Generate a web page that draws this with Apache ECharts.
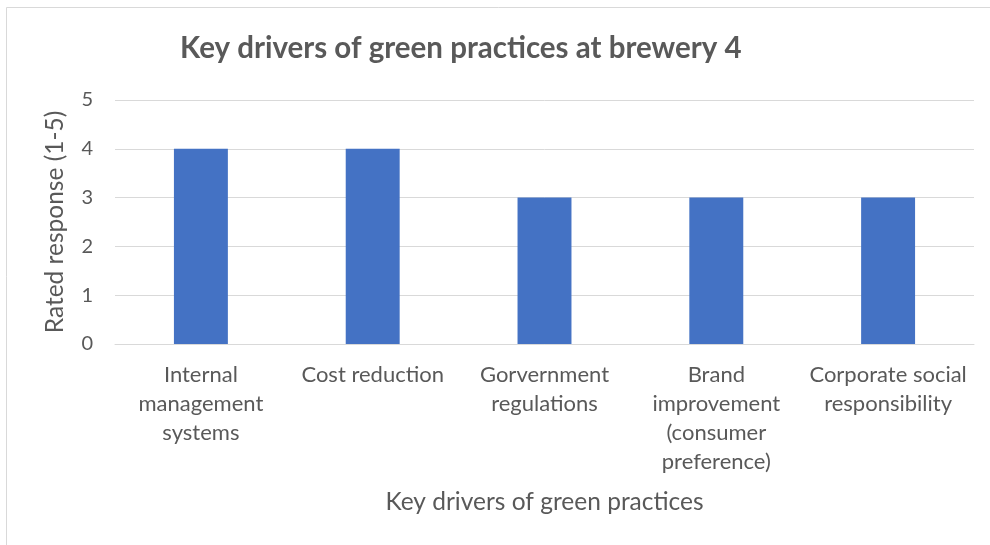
<!DOCTYPE html>
<html>
<head>
<meta charset="utf-8">
<script src="https://cdn.jsdelivr.net/npm/echarts@6/dist/echarts.min.js"></script>
<style>
  html, body { margin: 0; padding: 0; background: #fff; }
  #chart { width: 990px; height: 545px; }
</style>
</head>
<body>
<div id="chart"></div>
<script>
// Drivers (category labels, wrapped as shown under the axis)
var categories = [
  'Internal\nmanagement\nsystems',
  'Cost reduction',
  'Gorvernment\nregulations',
  'Brand\nimprovement\n(consumer\npreference)',
  'Corporate social\nresponsibility'
];
// Rated response per driver (scale 1-5)
var ratings = [4, 4, 3, 3, 3];
var yTicks = { min: 0, max: 5, interval: 1 };

var textColor = '#595959';
var font = 'Lato, "Open Sans", sans-serif';

var chart = echarts.init(document.getElementById('chart'), null, { renderer: 'canvas' });
chart.setOption({
  backgroundColor: '#fff',
  animation: false,
  title: {
    text: 'Key drivers of green practices at brewery 4',
    left: 175,
    top: 28,
    textStyle: { fontFamily: font, fontSize: 29.5, fontWeight: 'bold', color: textColor }
  },
  graphic: [{
    type: 'rect',
    shape: { x: 6.5, y: 7.5, width: 990, height: 545 },
    style: { fill: 'none', stroke: '#d9d9d9', lineWidth: 1 },
    silent: true
  }],
  grid: { left: 115, right: 16, top: 100, bottom: 201, containLabel: false },
  xAxis: {
    type: 'category',
    data: categories,
    name: 'Key drivers of green practices',
    nameLocation: 'middle',
    nameGap: 146,
    nameTextStyle: { fontFamily: font, fontSize: 24.5, color: textColor, verticalAlign: 'top' },
    axisLine: { show: true, lineStyle: { color: '#d9d9d9', width: 1 } },
    axisTick: { show: false },
    axisLabel: {
      interval: 0,
      margin: 16,
      fontFamily: font, fontSize: 22, color: textColor,
      lineHeight: 29,
      verticalAlign: 'top'
    },
    splitLine: { show: false }
  },
  yAxis: {
    type: 'value',
    min: yTicks.min, max: yTicks.max, interval: yTicks.interval,
    name: 'Rated response (1-5)',
    nameLocation: 'middle',
    nameGap: 47,
    nameTextStyle: { fontFamily: font, fontSize: 24.5, color: textColor },
    axisLine: { show: false },
    axisTick: { show: false },
    axisLabel: { margin: 22, fontFamily: font, fontSize: 20, color: textColor },
    splitLine: { lineStyle: { color: '#d9d9d9', width: 1 } }
  },
  series: [{
    type: 'bar',
    data: ratings,
    barWidth: '31.4%',
    itemStyle: { color: '#4472C4' }
  }]
});
</script>
</body>
</html>
